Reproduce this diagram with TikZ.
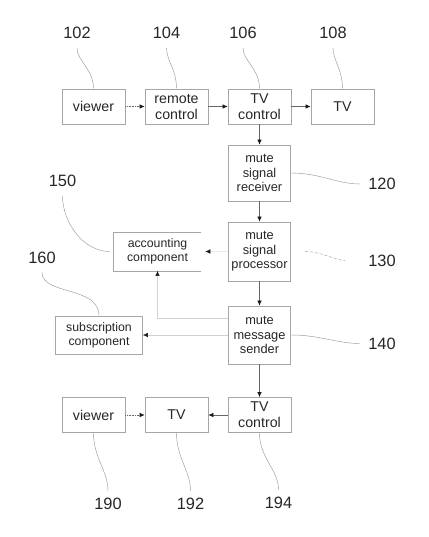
\documentclass[tikz,border=0pt]{standalone}
\usepackage{fontspec}
\setmainfont{Liberation Sans}
\usetikzlibrary{positioning,arrows.meta}

\tikzset{
  block/.style={draw=black!35, line width=0.7pt, text=black!85, align=center,
    inner sep=0pt, minimum width=63pt, minimum height=35pt,
    font=\fontsize{14.2}{16}\selectfont},
  muteblock/.style={block, minimum width=62pt, font=\fontsize{12.8}{14.6}\selectfont},
  sideblock/.style={block, minimum width=87pt, minimum height=38pt,
    font=\fontsize{12.3}{14}\selectfont},
  ref/.style={text=black!85, inner sep=2pt, font=\fontsize{16.4}{18}\selectfont},
  leader/.style={draw=black!40, line width=0.45pt},
  flow/.style={draw=black!60, line width=0.6pt},
  faint/.style={draw=black!18, line width=0.6pt},
  >={Latex[length=5pt,width=4.5pt,color=black!90]},
}

\begin{document}
\begin{tikzpicture}[x=1pt,y=-1pt,node distance=83pt,on grid]
  \useasboundingbox (0,0) rectangle (428,537);
  % upper chain
  \node[block] (viewer) at (93.5,106.5) {viewer};
  \node[block] (remote) [right=of viewer] {remote\\control};
  \node[block] (tvctl) [right=of remote] {TV\\control};
  \node[block] (tv) [right=of tvctl] {TV};
  % mute column
  \node[muteblock,minimum height=56pt] (receiver) [below=66.5pt of tvctl] {mute\\signal\\receiver};
  \node[muteblock,minimum height=59pt] (processor) [below=78.5pt of receiver] {mute\\signal\\processor};
  \node[muteblock,minimum height=58pt] (sender) [below=83.5pt of processor] {mute\\message\\sender};
  \node[sideblock,draw=none] (acct) [left=102pt of processor] {accounting\\component};
  \draw[black!35,line width=0.7pt] (acct.north east) -- (acct.north west)
    -- (acct.south west) -- (acct.south east);
  \node[sideblock] (subs) [left=160.5pt of sender] {subscription\\component};
  % lower chain
  \node[block] (tvctl2) [below=80pt of sender] {TV\\control};
  \node[block] (tv2) [left=of tvctl2] {TV};
  \node[block] (viewer2) [left=of tv2] {viewer};
  % reference numerals
  \node[ref] (l102) at (77,33) {102};
  \node[ref] (l104) at (166.5,33) {104};
  \node[ref] (l106) at (243,33) {106};
  \node[ref] (l108) at (333,33) {108};
  \node[ref] (l120) at (382,184) {120};
  \node[ref] (l130) at (382,260.5) {130};
  \node[ref] (l140) at (382,343.5) {140};
  \node[ref] (l150) at (62.5,181) {150};
  \node[ref] (l160) at (42,257.5) {160};
  \node[ref] (l190) at (108,504) {190};
  \node[ref] (l192) at (190.5,504) {192};
  \node[ref] (l194) at (278.5,503) {194};

  \path[->]
    (viewer) edge[flow,densely dotted] (remote)
    (remote) edge[flow] (tvctl)
    (tvctl) edge[flow] (tv)
            edge[flow] (receiver)
    (receiver) edge[flow] (processor)
    (processor) edge[draw=black!8,shorten >=4pt] (acct)
                edge[flow] (sender)
    (sender) edge[faint] (subs)
             edge[flow] (tvctl2)
    (tvctl2) edge[flow] (tv2)
    (viewer2) edge[flow,densely dotted] (tv2);
  \draw[faint,->] ([yshift=-13pt]sender.north west) -| (acct.south);

  % leaders
  \path[leader,shorten <=7pt]
    (l102) edge[out=-90,in=90] (viewer)
    (l104) edge[out=-90,in=90] (remote)
    (l106) edge[out=-90,in=90] (tvctl)
    (l108) edge[out=-90,in=90] (tv)
    (l150) edge[out=-90,in=180,shorten >=4pt] (acct)
    (l160) edge[out=-90,in=90] (subs);
  \path[leader,shorten >=6pt]
    (receiver) edge[out=0,in=180] (l120)
    (sender) edge[out=0,in=180] (l140)
    (processor) edge[out=0,in=180,densely dashed,shorten <=14pt,shorten >=21pt] (l130);
  \path[leader,shorten >=5pt]
    (viewer2) edge[out=-90,in=90] (l190)
    (tv2) edge[out=-90,in=90] (l192)
    (tvctl2) edge[out=-90,in=90] (l194);
\end{tikzpicture}
\end{document}
